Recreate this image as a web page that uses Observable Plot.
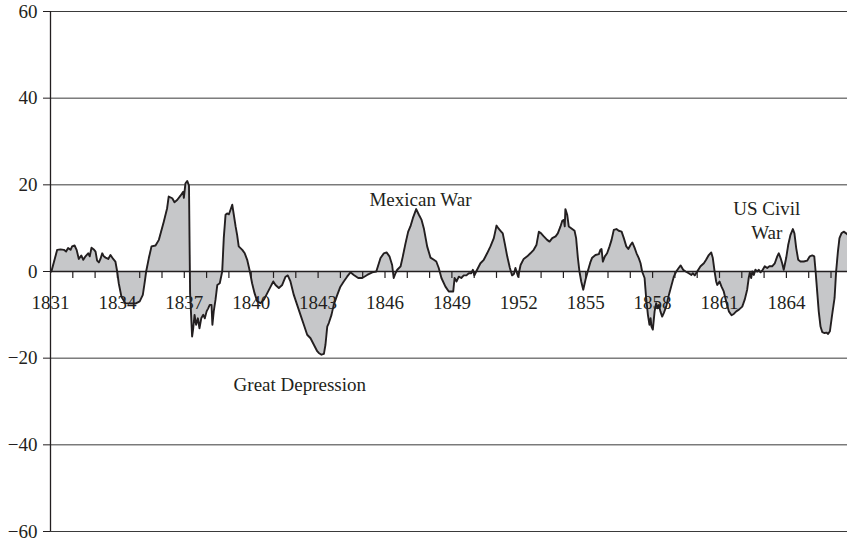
<!DOCTYPE html>
<html>
<head>
<meta charset="utf-8">
<script src="https://cdn.jsdelivr.net/npm/d3@7"></script>
<script src="https://cdn.jsdelivr.net/npm/@observablehq/plot@0.6"></script>
<style>
  html, body { margin: 0; padding: 0; background: #fff; }
  #chart svg { display: block; }
</style>
</head>
<body>
<div id="chart"></div>
<script>
// Series: time (decimal year) and value
const years = [
  1831.04,1831.30,1831.45,1831.60,1831.70,1831.79,1831.90,1831.97,1832.08,1832.17,
  1832.27,1832.38,1832.47,1832.57,1832.69,1832.76,1832.84,1832.94,1833.02,1833.09,
  1833.17,1833.24,1833.32,1833.39,1833.47,1833.59,1833.69,1833.81,1833.91,1833.99,
  1834.06,1834.18,1834.36,1834.59,1834.81,1835.00,1835.14,1835.23,1835.29,1835.41,
  1835.53,1835.71,1835.86,1836.08,1836.23,1836.30,1836.46,1836.56,1836.68,1836.83,
  1836.95,1836.98,1837.05,1837.13,1837.21,1837.26,1837.35,1837.40,1837.46,1837.53,
  1837.61,1837.68,1837.76,1837.85,1837.92,1838.00,1838.07,1838.14,1838.22,1838.26,
  1838.32,1838.40,1838.48,1838.59,1838.70,1838.77,1838.85,1838.92,1839.00,1839.07,
  1839.15,1839.22,1839.30,1839.37,1839.44,1839.60,1839.71,1839.82,1839.94,1840.04,
  1840.15,1840.27,1840.42,1840.57,1840.72,1840.87,1840.99,1841.09,1841.24,1841.39,
  1841.54,1841.64,1841.76,1841.91,1842.06,1842.21,1842.36,1842.51,1842.66,1842.81,
  1842.96,1843.03,1843.15,1843.26,1843.33,1843.41,1843.48,1843.60,1843.70,1843.86,
  1844.00,1844.15,1844.30,1844.45,1844.60,1844.80,1844.98,1845.20,1845.43,1845.61,
  1845.80,1845.95,1846.07,1846.20,1846.32,1846.39,1846.47,1846.55,1846.70,1846.80,
  1846.92,1847.04,1847.14,1847.25,1847.40,1847.52,1847.64,1847.74,1847.89,1848.04,
  1848.19,1848.30,1848.41,1848.53,1848.71,1848.86,1849.06,1849.12,1849.21,1849.31,
  1849.42,1849.53,1849.65,1849.76,1849.87,1849.94,1850.01,1850.13,1850.28,1850.43,
  1850.58,1850.73,1850.88,1850.96,1851.00,1851.08,1851.18,1851.28,1851.37,1851.48,
  1851.60,1851.70,1851.78,1851.85,1851.97,1852.08,1852.22,1852.38,1852.52,1852.67,
  1852.79,1852.90,1853.00,1853.12,1853.27,1853.38,1853.50,1853.65,1853.75,1853.87,
  1853.95,1854.02,1854.06,1854.09,1854.17,1854.24,1854.35,1854.50,1854.57,1854.65,
  1854.72,1854.80,1854.89,1854.99,1855.09,1855.22,1855.29,1855.44,1855.59,1855.66,
  1855.71,1855.77,1855.86,1855.96,1856.07,1856.16,1856.26,1856.38,1856.48,1856.61,
  1856.71,1856.82,1856.91,1857.01,1857.09,1857.19,1857.28,1857.38,1857.46,1857.53,
  1857.64,1857.71,1857.79,1857.86,1857.91,1857.95,1858.01,1858.09,1858.16,1858.22,
  1858.28,1858.35,1858.43,1858.50,1858.61,1858.73,1858.85,1858.95,1859.06,1859.17,
  1859.26,1859.37,1859.48,1859.62,1859.74,1859.80,1859.89,1860.00,1860.15,1860.30,
  1860.40,1860.52,1860.63,1860.70,1860.78,1860.85,1860.90,1861.00,1861.09,1861.19,
  1861.30,1861.42,1861.54,1861.64,1861.75,1861.87,1862.02,1862.13,1862.24,1862.31,
  1862.36,1862.42,1862.47,1862.54,1862.61,1862.69,1862.76,1862.84,1862.94,1863.03,
  1863.14,1863.24,1863.36,1863.48,1863.59,1863.66,1863.74,1863.81,1863.88,1863.99,
  1864.08,1864.18,1864.29,1864.36,1864.44,1864.53,1864.63,1864.78,1864.93,1865.05,
  1865.16,1865.25,1865.31,1865.38,1865.45,1865.53,1865.61,1865.71,1865.80,1865.87,
  1865.95,1866.05,1866.16,1866.23,1866.31,1866.38,1866.47,1866.57,1866.68,1866.74
];
const values = [
  0,5.0,5.1,5.0,4.6,5.4,5.0,5.8,6.0,5.0,
  2.9,3.7,2.7,3.5,4.2,3.5,5.5,5.1,4.6,2.5,
  2.1,2.9,4.2,3.5,3.2,2.9,3.8,2.9,2.3,0,
  -2.7,-5.8,-7.3,-7.4,-7.4,-6.9,-5.4,-2.3,0,3.1,
  5.8,6.0,7.3,11.5,14.6,17.3,16.9,16.0,16.5,17.5,
  18.4,17.0,20.3,20.9,19.8,-5,-15.0,-13.1,-10.0,-12.3,
  -10.8,-13.1,-10.8,-10.0,-10.8,-9.2,-8.5,-7.7,-7.7,-12.3,
  -9.2,-6.5,-3.1,-2.7,0,7.7,13.1,13.4,13.2,14.2,
  15.4,13.1,10.4,8.4,5.8,5.0,4.2,2.7,0,-2.7,
  -5.0,-6.9,-7.3,-6.5,-5.0,-3.5,-2.3,-3.1,-3.8,-3.1,
  -1.2,-0.9,-2.3,-5.4,-7.7,-10.0,-12.3,-14.6,-15.4,-16.9,
  -18.4,-18.8,-19.2,-19.0,-16.9,-12.7,-11.9,-10.0,-7.7,-5.4,
  -3.5,-2.3,-1.2,-0.2,-0.8,-1.5,-1.5,-0.8,-0.2,0,
  3.1,4.2,4.4,3.5,1.5,-1.5,-0.4,0.4,1.2,3.5,
  6.5,9.2,10.4,12.3,14.4,13.1,11.9,10.0,5.8,3.2,
  2.7,2.3,0.8,-1.5,-3.5,-4.6,-4.6,-1.5,-2.3,-1.2,
  -1.5,-0.9,-0.9,-0.4,-0.4,0.4,-0.9,0.4,1.9,2.7,
  4.2,5.8,7.7,9.6,10.6,10.0,9.4,8.8,6.5,3.5,
  0.8,-0.9,-0.6,0.8,-1.2,1.5,2.9,3.5,4.2,5.0,
  6.1,9.2,8.8,8.1,7.3,6.9,7.7,8.1,8.8,10.4,
  11.7,11.9,10.4,14.4,13.1,10.4,10.0,9.4,7.7,3.1,
  0,-2.3,-4.2,-1.9,0,2.3,3.2,3.8,4.0,5.0,
  5.2,2.3,3.5,4.2,5.8,7.3,9.6,9.8,9.4,9.2,
  7.7,5.8,5.2,6.1,6.7,5.5,4.2,3.1,1.9,0,
  -1.5,-6.1,-10.0,-12.3,-10.8,-12.7,-13.4,-9.2,-7.3,-8.5,
  -7.7,-9.2,-10.4,-9.6,-8.1,-5.4,-3.1,-1.2,0,0.8,
  1.4,0.4,0,-0.4,-0.8,-0.4,-0.9,0,1.2,1.9,
  2.7,3.8,4.4,3.1,0,-2.3,-3.1,-2.3,-3.5,-4.6,
  -6.9,-9.2,-10.1,-9.8,-9.2,-8.8,-8.1,-6.5,-4.2,-1.5,
  -0.2,-1.5,0,-0.8,0.4,0,0.4,-0.2,0.4,1.2,
  0.8,1.2,1.2,1.9,3.5,4.2,3.1,1.9,0.4,3.1,
  6.1,8.4,9.8,8.8,5.4,2.7,2.3,2.3,2.5,3.5,
  3.7,3.5,0,-4.6,-9.2,-12.7,-14.0,-14.2,-14.1,-14.4,
  -13.8,-10.0,-6.1,0,4.6,7.7,8.8,9.2,8.8,8.5
];

// Axis ticks and labels
const yTicks = [60, 40, 20, 0, -20, -40, -60];
const xLabelYears = [1831, 1834, 1837, 1840, 1843, 1846, 1849, 1852, 1855, 1858, 1861, 1864];
const xLabels = ["1831", "1834", "1837", "1840", "1843", "1846", "1849", "1952", "1855", "1858", "1861", "1864"];
const xMinorYears = d3.range(1832, 1867);

// Annotations
const noteText = ["Mexican War", "Great Depression", "US Civil", "War"];
const noteX = [1847.59, 1842.18, 1863.12, 1863.12];
const noteY = [16.6, -26.2, 14.4, 8.9];

const data = years.map((t, i) => ({year: t, value: values[i]}));
const labelData = xLabelYears.map((t, i) => ({year: t, label: xLabels[i]}));
const notes = noteText.map((t, i) => ({text: t, x: noteX[i], y: noteY[i]}));

const ink = "#231f20";
const font = "'Liberation Serif', 'DejaVu Serif', serif";
const fs = 19;

const chart = Plot.plot({
  width: 847,
  height: 540,
  marginLeft: 50,
  marginRight: 0,
  marginTop: 11,
  marginBottom: 9,
  style: {fontFamily: font, background: "#fff", color: ink},
  x: {domain: [1831, 1866.74], axis: null},
  y: {domain: [-60, 60], axis: null},
  marks: [
    Plot.ruleY(yTicks, {stroke: "#3a3a3a", strokeWidth: 1}),
    Plot.areaY(data, {x: "year", y: "value", fill: "#c6c7c9"}),
    Plot.ruleY([0], {stroke: ink, strokeWidth: 1.3}),
    Plot.lineY(data, {x: "year", y: "value", stroke: ink, strokeWidth: 1.9, strokeLinejoin: "round"}),
    Plot.ruleX(xMinorYears, {x: d => d, y1: 0, y2: -1.6, stroke: ink, strokeWidth: 1.2}),
    Plot.text(labelData, {x: "year", y: 0, dy: 31, text: "label", fontSize: fs, fill: ink}),
    Plot.ruleX([1831], {stroke: ink, strokeWidth: 1.3}),
    Plot.axisY({ticks: yTicks, tickSize: 7, tickPadding: 6, fontSize: fs, stroke: ink, color: ink, label: null}),
    Plot.text(notes, {x: "x", y: "y", text: "text", fontSize: fs, fill: ink})
  ]
});
document.getElementById("chart").appendChild(chart);
</script>
</body>
</html>
